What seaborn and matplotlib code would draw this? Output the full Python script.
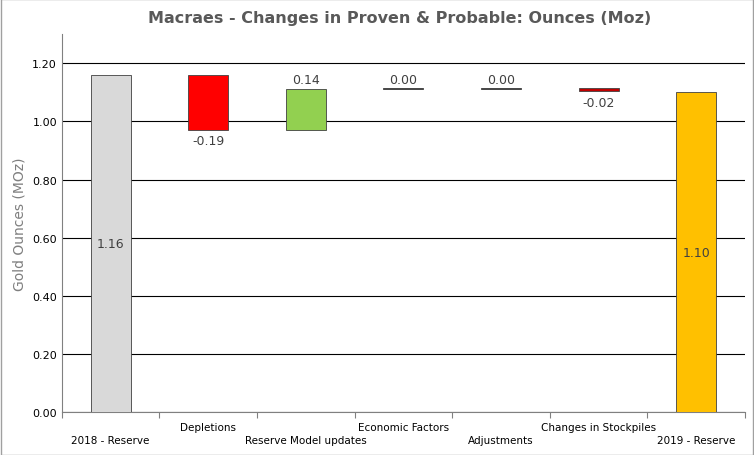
import matplotlib
matplotlib.use("Agg")
import matplotlib.pyplot as plt
import seaborn as sns
import pandas as pd

categories = ["2018 - Reserve", "Depletions", "Reserve Model updates", "Economic Factors",
              "Adjustments", "Changes in Stockpiles", "2019 - Reserve"]
changes = [1.16, -0.19, 0.14, 0.00, 0.00, -0.02, 1.10]
colors = ["#D9D9D9", "#FF0000", "#92D050", "#000000", "#000000", "#C00000", "#FFC000"]

# waterfall bottoms / heights
bottoms, heights = [], []
run = 0.0
for i, v in enumerate(changes):
    if i == 0:
        bottoms.append(0.0); heights.append(v); run = v
    elif i == len(changes) - 1:
        bottoms.append(0.0); heights.append(v)
    else:
        if v >= 0:
            bottoms.append(run); heights.append(max(v, 0.003))
        else:
            bottoms.append(run + v); heights.append(-v)
        run += v
bottoms[-2] = 1.103; heights[-2] = 0.012

df = pd.DataFrame({"cat": categories, "h": heights})
fig = plt.figure(figsize=(7.54, 4.56), dpi=100)
ax = fig.add_axes([0.082, 0.094, 0.906, 0.829])
sns.barplot(data=df, x="cat", y="h", hue="cat", palette=colors, legend=False, saturation=1,
            width=0.41, edgecolor="#404040", linewidth=0.6, ax=ax, zorder=3, errorbar=None)
bars = [p for p in ax.patches if p.get_height() > 0]
bars.sort(key=lambda p: p.get_x())
for p, b in zip(bars, bottoms):
    p.set_y(b)
ax.set_ylim(0, 1.3)
ax.set_xlim(-0.5, 6.5)
ax.set_yticks([0, 0.2, 0.4, 0.6, 0.8, 1.0, 1.2])
ax.set_yticklabels([f"{t:.2f}" for t in ax.get_yticks()], fontsize=8)
ax.yaxis.grid(True, color="black", linewidth=0.8, zorder=0)
ax.set_axisbelow(True)
for s in ["top", "right"]:
    ax.spines[s].set_visible(False)
ax.spines["left"].set_color("#808080")
ax.spines["bottom"].set_color("#808080")
ax.set_xlabel("")
ax.set_ylabel("Gold Ounces (MOz)", color="#7F7F7F", fontsize=10)
ax.set_xticks([i + 0.5 for i in range(-1, 7)])
ax.set_xticklabels([])
ax.tick_params(axis="x", length=4, color="#808080")
ax.tick_params(axis="y", length=0)
for i, c in enumerate(categories):
    y = -0.095 if i % 2 == 0 else -0.05
    ax.text(i, y, c, ha="center", va="center", fontsize=7.5, clip_on=False)

lab_col = "#404040"
ax.text(0, 0.58, f"{changes[0]:.2f}", ha="center", va="center", fontsize=9, color=lab_col)
ax.text(6, 0.55, f"{changes[6]:.2f}", ha="center", va="center", fontsize=9, color=lab_col)
for i in range(1, 6):
    v = changes[i]
    if v < 0:
        ax.text(i, bottoms[i] - 0.015, f"{v:.2f}", ha="center", va="top", fontsize=9, color=lab_col)
    else:
        ax.text(i, bottoms[i] + heights[i] + 0.01, f"{v:.2f}", ha="center", va="bottom", fontsize=9, color=lab_col)

fig.suptitle("Macraes - Changes in Proven & Probable: Ounces (Moz)", x=0.53, y=0.975,
             fontsize=11.5, fontweight="bold", color="#595959")
fig.patches.append(plt.Rectangle((0.001, 0.001), 0.998, 0.998, transform=fig.transFigure,
                                 fill=False, edgecolor="#A0A0A0", linewidth=1))
fig.savefig("out.png", dpi=100)
